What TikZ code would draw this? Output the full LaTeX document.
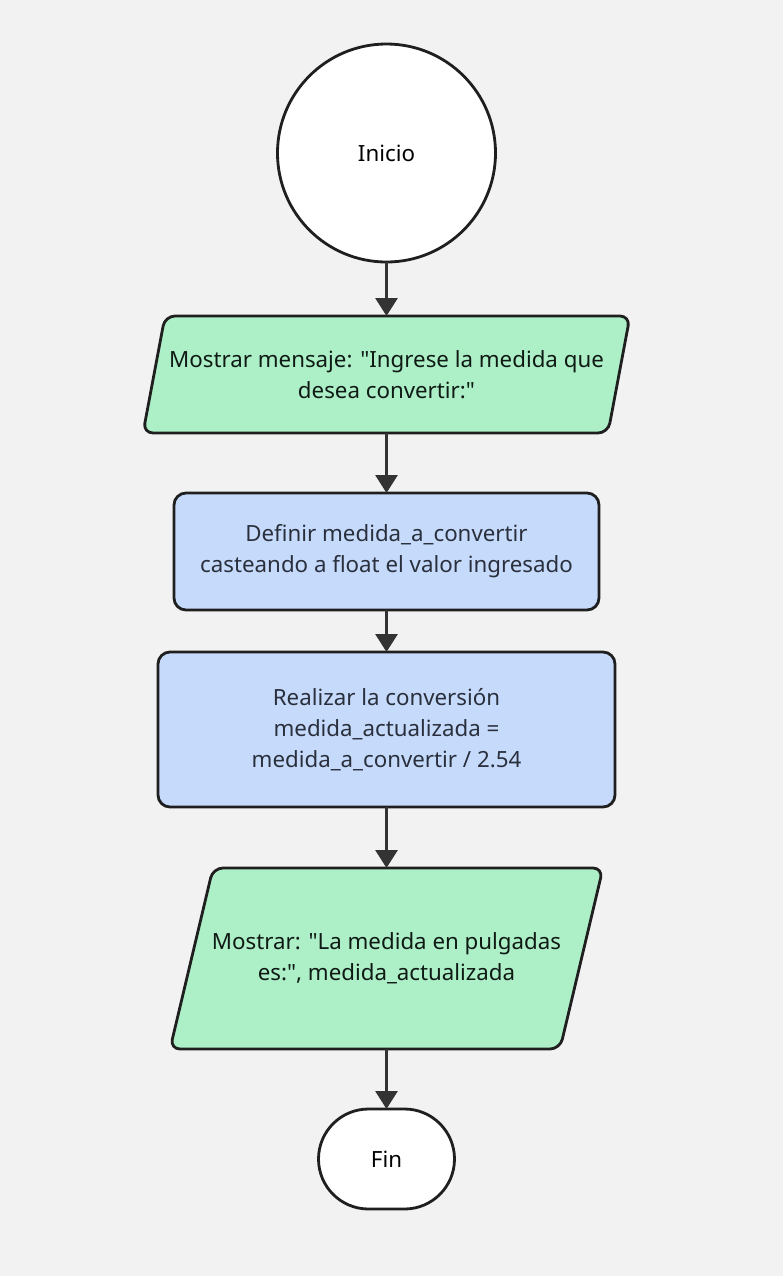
\documentclass[tikz,border=0pt]{standalone}
\usepackage{fontspec}
\newfontfamily\nsfont{Noto Sans}
\usetikzlibrary{arrows.meta}
\definecolor{bg}{HTML}{F2F2F2}
\definecolor{greenfill}{HTML}{ADF0C8}
\definecolor{bluefill}{HTML}{C6DBFC}
\definecolor{border}{HTML}{1F1F1F}
\definecolor{arrowc}{HTML}{333333}
\definecolor{greentext}{HTML}{0F1A14}
\definecolor{bluetext}{HTML}{2A2F3C}
\tikzset{
  base/.style={font=\nsfont\fontsize{11.15pt}{15.5pt}\selectfont, align=center, inner sep=0pt, outer sep=0pt},
  startnode/.style={base, circle, draw=border, line width=1.4pt, fill=white, minimum size=109pt},
  endnode/.style={base, rectangle, rounded corners=25pt, draw=border, line width=1.4pt, fill=white, minimum width=68pt, minimum height=50pt},
  procbox/.style={base, rectangle, rounded corners=6pt, draw=border, line width=1.4pt, fill=bluefill, text=bluetext},
  iobox/.style={base, rectangle, text=greentext},
  ioshape/.style={draw=border, line width=1.4pt, fill=greenfill, rounded corners=5pt},
  arr/.style={draw=arrowc, line width=1.5pt, -{Triangle[length=9pt,width=11pt]}}
}
\begin{document}
\begin{tikzpicture}[x=0.5pt,y=-0.5pt]
\fill[bg] (0,0) rectangle (783,1276);
\useasboundingbox (0,0) rectangle (783,1276);

\node[startnode] (start) at (386.5,153) {Inicio};

\node[iobox, minimum width=243.5pt, minimum height=58.5pt] (p1) at (386.5,374.5) {};
\draw[ioshape] (p1.south west) -- ([xshift=11pt]p1.north west) -- (p1.north east) -- ([xshift=-11pt]p1.south east) -- cycle;
\node[iobox] (p1t) at (p1.center) {Mostrar mensaje: "Ingrese la medida que\\desea convertir:"};

\node[procbox, minimum width=212.5pt, minimum height=58.5pt] (r1) at (386.5,551.5) {Definir medida\_a\_convertir\\casteando a float el valor ingresado};

\node[procbox, minimum width=228.5pt, minimum height=77.5pt] (r2) at (386.5,729.5) {Realizar la conversión\\medida\_actualizada =\\medida\_a\_convertir / 2.54};

\node[iobox, minimum width=216.5pt, minimum height=90.5pt] (p2) at (386.5,958.5) {};
\draw[ioshape] (p2.south west) -- ([xshift=21.5pt]p2.north west) -- (p2.north east) -- ([xshift=-21.5pt]p2.south east) -- cycle;
\node[iobox] (p2t) at (p2.center) {Mostrar: "La medida en pulgadas\\es:", medida\_actualizada};

\node[endnode] (fin) at (386.5,1159) {Fin};

\draw[arr] (start.south) -- (p1.north);
\draw[arr] (p1.south) -- (r1.north);
\draw[arr] (r1.south) -- (r2.north);
\draw[arr] (r2.south) -- (p2.north);
\draw[arr] (p2.south) -- (fin.north);
\end{tikzpicture}
\end{document}
